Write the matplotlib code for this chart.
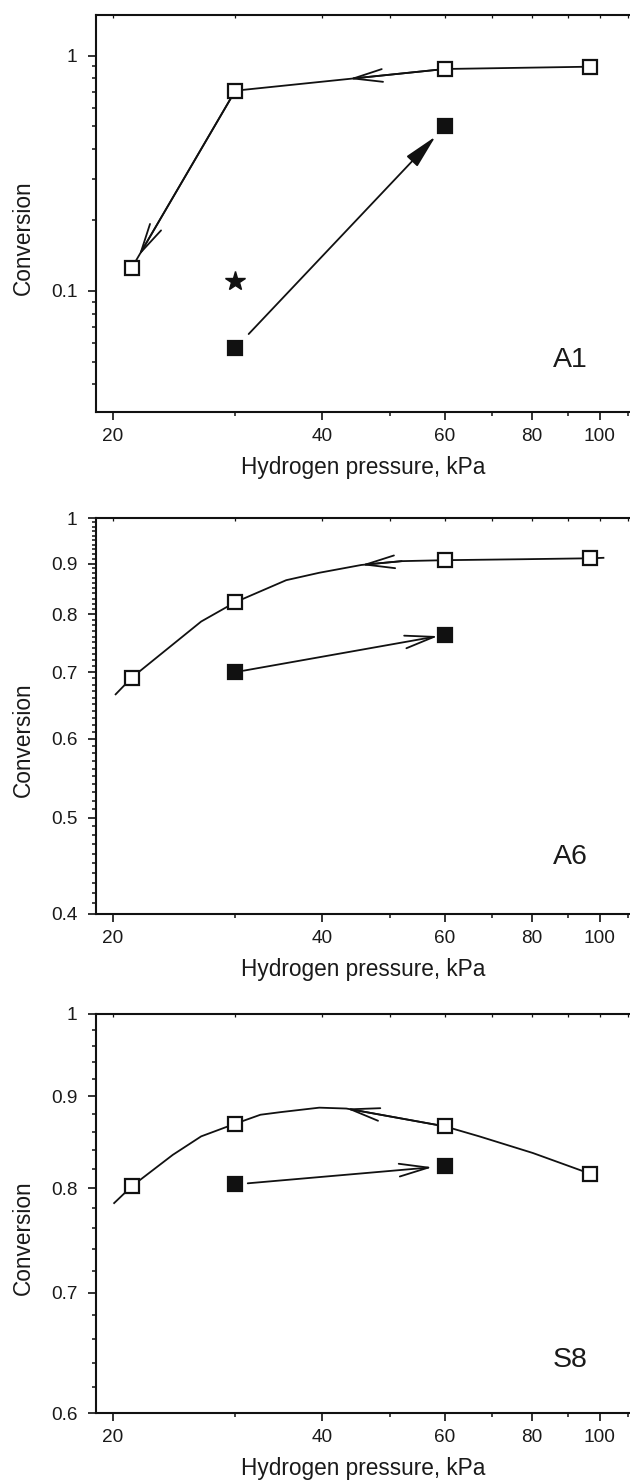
import numpy as np
import matplotlib.pyplot as plt
from matplotlib.ticker import FixedLocator, FixedFormatter, NullFormatter, LogLocator

plt.rcParams['font.family'] = ['Liberation Sans', 'DejaVu Sans']

# hydrogen pressures, kPa
p_open = [21.3, 30, 60, 97]
p_closed = [30, 60]

# A1 (log axis 0.03 - 1.5)
a1_open = [0.125, 0.71, 0.878, 0.898]
a1_closed = [0.057, 0.50]
a1_star_p = [30]
a1_star = [0.110]

# A6
a6_open = [0.691, 0.823, 0.907, 0.911]
a6_closed = [0.700, 0.763]
a6_curve_p = [20.2, 21.3, 26.8, 30, 35.5, 39.6, 45.5, 52.0, 60, 77.4, 97, 101.3]
a6_curve = [0.665, 0.691, 0.787, 0.823, 0.866, 0.881, 0.897, 0.905, 0.907, 0.909, 0.911, 0.912]

# S8
s8_open = [0.802, 0.869, 0.866, 0.815]
s8_closed = [0.804, 0.823]
s8_curve_p = [20.1, 21.3, 24.4, 26.8, 30, 32.6, 34.9, 39.6, 43.3, 60, 67.2, 80.2, 97]
s8_curve = [0.785, 0.802, 0.835, 0.855, 0.869, 0.879, 0.882, 0.887, 0.886, 0.866, 0.855, 0.837, 0.815]

x_major = [20, 40, 60, 80, 100]
x_minor = [30, 50, 70, 90, 110]

W, H = 630, 1480
fig = plt.figure(figsize=(W / 100, H / 100), dpi=100)

INK = '#111111'
TXT = '#1a1a1a'
LW = 1.3
OPEN_HEAD = '->,head_length=1.05,head_width=0.23'
FILL_HEAD = '-|>,head_length=1.05,head_width=0.23'


def px_axes(top, bottom, left=96, right=630):
    return fig.add_axes([left / W, 1 - bottom / H, (right - left) / W, (bottom - top) / H])


def log_along(x0, y0, x1, y1, f):
    lx = np.log10(x0) + f * (np.log10(x1) - np.log10(x0))
    ly = np.log10(y0) + f * (np.log10(y1) - np.log10(y0))
    return 10 ** lx, 10 ** ly


def arrow(ax, tip, tail, style, sa=0, sb=0):
    ax.annotate('', xy=tip, xytext=tail,
                arrowprops=dict(arrowstyle=style, mutation_scale=20, lw=LW, color=INK,
                                shrinkA=sa, shrinkB=sb), zorder=3)


def style_axes(ax, ylim, ymaj, ylab, yminor, tag, tag_y):
    ax.set_xscale('log')
    ax.set_yscale('log')
    ax.set_xlim(18.93, 110.6)
    ax.set_ylim(*ylim)
    ax.xaxis.set_major_locator(FixedLocator(x_major))
    ax.xaxis.set_major_formatter(FixedFormatter([str(v) for v in x_major]))
    ax.xaxis.set_minor_locator(FixedLocator(x_minor))
    ax.xaxis.set_minor_formatter(NullFormatter())
    ax.yaxis.set_major_locator(FixedLocator(ymaj))
    ax.yaxis.set_major_formatter(FixedFormatter(ylab))
    ax.yaxis.set_minor_locator(yminor)
    ax.yaxis.set_minor_formatter(NullFormatter())
    for s in ['left', 'bottom', 'top']:
        ax.spines[s].set_linewidth(1.5)
        ax.spines[s].set_color(INK)
    ax.spines['right'].set_visible(False)
    ax.tick_params(which='major', direction='out', length=5.5, width=1.2, color=INK,
                   labelsize=13.7, labelcolor=TXT)
    ax.tick_params(which='minor', direction='out', length=3.2, width=1.1, color=INK)
    ax.tick_params(axis='y', which='major', pad=8)
    ax.tick_params(axis='x', which='major', pad=6)
    ax.tick_params(top=False, right=False, which='both')
    ax.set_xlabel('Hydrogen pressure, kPa', fontsize=16.3, color=TXT, labelpad=8)
    ax.set_ylabel('Conversion', fontsize=16.3, color=TXT)
    ax.yaxis.set_label_coords(-0.115, 0.44)
    ax.text(0.888, tag_y, tag, transform=ax.transAxes, fontsize=20.5, color=TXT,
            ha='center', va='baseline')
    # inward ticks along the top edge
    tw = ax.twiny()
    tw.set_xscale('log')
    tw.set_xlim(ax.get_xlim())
    tw.xaxis.set_major_locator(FixedLocator(x_major))
    tw.xaxis.set_minor_locator(FixedLocator(x_minor))
    tw.xaxis.set_major_formatter(NullFormatter())
    tw.xaxis.set_minor_formatter(NullFormatter())
    tw.tick_params(which='both', direction='in', length=2.5, width=0.9, color=INK)
    for s in tw.spines.values():
        s.set_visible(False)


def markers(ax, p, v, face, marker='s', ms=10.5):
    ax.plot(p, v, linestyle='none', marker=marker, ms=ms, mfc=face, mec=INK, mew=1.6, zorder=5)


# ---- A1 ----
ax1 = px_axes(15, 412)
style_axes(ax1, (0.0305, 1.49), [0.1, 1], ['0.1', '1'],
           LogLocator(base=10, subs=np.arange(2, 10), numticks=20), 'A1', 0.114)
ax1.plot(p_open, a1_open, color=INK, lw=LW, zorder=2)
arrow(ax1, log_along(p_open[2], a1_open[2], p_open[1], a1_open[1], 0.457),
      (p_open[2], a1_open[2]), OPEN_HEAD)
arrow(ax1, (p_open[0], a1_open[0]), (p_open[1], a1_open[1]), OPEN_HEAD, sb=10)
arrow(ax1, (p_closed[1], a1_closed[1]), (p_closed[0], a1_closed[0]), FILL_HEAD, sa=14, sb=10)
markers(ax1, p_open, a1_open, 'white')
markers(ax1, p_closed, a1_closed, INK)
ax1.plot(a1_star_p, a1_star, linestyle='none', marker='*', ms=15, color=INK, zorder=5)

# ---- A6 ----
ax2 = px_axes(518, 914)
a6_ticks = [0.4, 0.5, 0.6, 0.7, 0.8, 0.9, 1]
a6_minor = [v / 100 for v in range(41, 100) if v % 10]
style_axes(ax2, (0.4, 1.0), a6_ticks, ['0.4', '0.5', '0.6', '0.7', '0.8', '0.9', '1'],
           FixedLocator(a6_minor), 'A6', 0.126)
ax2.plot(a6_curve_p, a6_curve, color=INK, lw=LW, zorder=2)
arrow(ax2, (a6_curve_p[6], a6_curve[6]), (a6_curve_p[7], a6_curve[7]), OPEN_HEAD)
arrow(ax2, (p_closed[1], a6_closed[1]), (p_closed[0], a6_closed[0]), OPEN_HEAD, sa=6, sb=5)
markers(ax2, p_open, a6_open, 'white')
markers(ax2, p_closed, a6_closed, INK)

# ---- S8 ----
ax3 = px_axes(1014, 1413)
s8_ticks = [0.6, 0.7, 0.8, 0.9, 1]
s8_minor = [v / 100 for v in range(62, 100, 2) if v % 10]
style_axes(ax3, (0.6, 1.0), s8_ticks, ['0.6', '0.7', '0.8', '0.9', '1'],
           FixedLocator(s8_minor), 'S8', 0.116)
ax3.plot(s8_curve_p, s8_curve, color=INK, lw=LW, zorder=2)
arrow(ax3, (s8_curve_p[8], s8_curve[8]), (s8_curve_p[9], s8_curve[9]), OPEN_HEAD)
arrow(ax3, (p_closed[1], s8_closed[1]), (p_closed[0], s8_closed[0]), OPEN_HEAD, sa=9, sb=9)
markers(ax3, p_open, s8_open, 'white')
markers(ax3, p_closed, s8_closed, INK)

fig.savefig('out.png', dpi=100)
